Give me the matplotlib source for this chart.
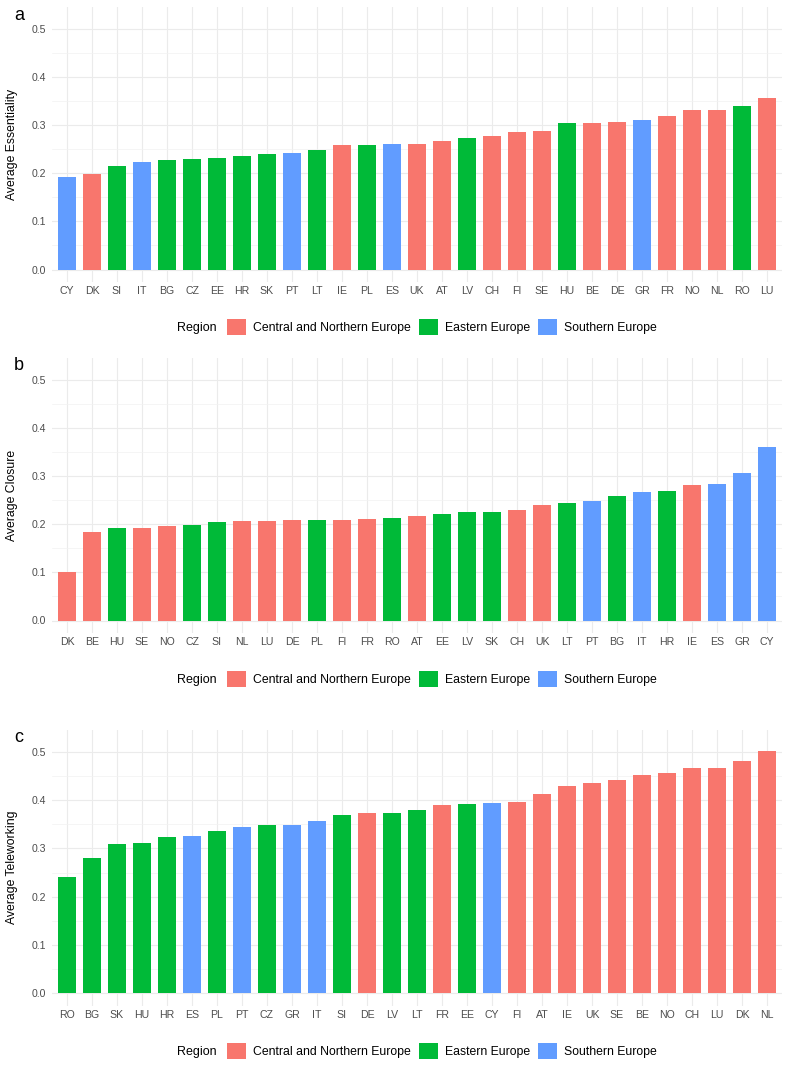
import matplotlib
matplotlib.use('Agg')
import matplotlib.pyplot as plt
from matplotlib.patches import Patch
from matplotlib.ticker import MultipleLocator

plt.rcParams['font.family'] = ['Liberation Sans', 'DejaVu Sans']

# region of each country
central = ['DK', 'IE', 'UK', 'AT', 'CH', 'FI', 'SE', 'BE', 'DE', 'FR', 'NO', 'NL', 'LU']
eastern = ['SI', 'BG', 'CZ', 'EE', 'HR', 'SK', 'LT', 'PL', 'LV', 'HU', 'RO']
southern = ['CY', 'IT', 'PT', 'ES', 'GR']

regions = ['Central and Northern Europe', 'Eastern Europe', 'Southern Europe']
colores = ['#F8766D', '#00BA38', '#619CFF']

# panel a - essentiality
paises_a = ['CY', 'DK', 'SI', 'IT', 'BG', 'CZ', 'EE', 'HR', 'SK', 'PT', 'LT', 'IE', 'PL', 'ES', 'UK',
            'AT', 'LV', 'CH', 'FI', 'SE', 'HU', 'BE', 'DE', 'GR', 'FR', 'NO', 'NL', 'RO', 'LU']
valores_a = [0.192, 0.199, 0.215, 0.224, 0.228, 0.230, 0.232, 0.236, 0.241, 0.243, 0.249, 0.259, 0.260,
             0.261, 0.262, 0.267, 0.274, 0.278, 0.286, 0.288, 0.304, 0.305, 0.307, 0.311, 0.320, 0.331,
             0.331, 0.341, 0.356]

# panel b - closure
paises_b = ['DK', 'BE', 'HU', 'SE', 'NO', 'CZ', 'SI', 'NL', 'LU', 'DE', 'PL', 'FI', 'FR', 'RO', 'AT',
            'EE', 'LV', 'SK', 'CH', 'UK', 'LT', 'PT', 'BG', 'IT', 'HR', 'IE', 'ES', 'GR', 'CY']
valores_b = [0.101, 0.185, 0.193, 0.193, 0.196, 0.198, 0.205, 0.207, 0.208, 0.209, 0.209, 0.210, 0.211,
             0.214, 0.217, 0.222, 0.225, 0.226, 0.229, 0.240, 0.245, 0.249, 0.258, 0.267, 0.270, 0.282,
             0.284, 0.307, 0.361]

# panel c - teleworking
paises_c = ['RO', 'BG', 'SK', 'HU', 'HR', 'ES', 'PL', 'PT', 'CZ', 'GR', 'IT', 'SI', 'DE', 'LV', 'LT',
            'FR', 'EE', 'CY', 'FI', 'AT', 'IE', 'UK', 'SE', 'BE', 'NO', 'CH', 'LU', 'DK', 'NL']
valores_c = [0.240, 0.281, 0.310, 0.312, 0.323, 0.326, 0.337, 0.345, 0.348, 0.349, 0.357, 0.369, 0.374,
             0.374, 0.379, 0.391, 0.393, 0.394, 0.397, 0.413, 0.429, 0.436, 0.443, 0.452, 0.456, 0.467,
             0.468, 0.481, 0.502]


def color_pais(p):
    if p in central:
        return colores[0]
    if p in eastern:
        return colores[1]
    return colores[2]


W, H = 787, 1074
fig = plt.figure(figsize=(W / 100, H / 100), dpi=100)

paneles = [
    ('a', paises_a, valores_a, 'Average Essentiality', 7, 282, 327),
    ('b', paises_b, valores_b, 'Average Closure', 358, 633, 679),
    ('c', paises_c, valores_c, 'Average Teleworking', 730, 1005.5, 1051),
]

fs_leg = 8.8
fs_px = fs_leg * 100 / 72

for letra, paises, valores, ylab, top, bottom, y_leg in paneles:
    left, right = 52, 782
    ax = fig.add_axes([left / W, 1 - bottom / H, (right - left) / W, (bottom - top) / H])
    x = range(len(paises))
    ax.bar(x, valores, width=0.74, color=[color_pais(p) for p in paises], zorder=3)
    ax.set_xlim(-0.6, len(paises) - 0.4)
    ax.set_ylim(-0.026, 0.546)
    ax.set_xticks(list(x))
    ax.set_xticklabels(paises)
    ax.yaxis.set_major_locator(MultipleLocator(0.1))
    ax.yaxis.set_minor_locator(MultipleLocator(0.05))
    ax.set_yticks([0, 0.1, 0.2, 0.3, 0.4, 0.5])
    ax.set_yticklabels(['0.0', '0.1', '0.2', '0.3', '0.4', '0.5'])
    ax.grid(which='major', color='#EBEBEB', linewidth=0.8, zorder=0)
    ax.grid(which='minor', axis='y', color='#F2F2F2', linewidth=0.5, zorder=0)
    ax.tick_params(which='both', length=0, labelsize=7.6, labelcolor='#4D4D4D')
    ax.tick_params(axis='y', pad=4.3)
    ax.tick_params(axis='x', pad=3)
    for s in ax.spines.values():
        s.set_visible(False)

    fig.text(12.5 / W, 1 - ((top + bottom) / 2) / H, ylab, rotation=90,
             ha='center', va='center', fontsize=8.8)
    fig.text(19 / W, 1 - (top + 8) / H, letra, ha='center', va='center', fontsize=13)

    # leyenda
    fig.text(177 / W, 1 - (y_leg + 1.5) / H, 'Region', ha='left', va='center', fontsize=9)
    handles = [Patch(facecolor=c, edgecolor='none') for c in colores]
    fig.legend(handles, regions, loc='center left', bbox_to_anchor=(227 / W, 1 - y_leg / H),
               ncol=3, frameon=False, fontsize=fs_leg, borderpad=0, borderaxespad=0,
               handlelength=19 / fs_px, handleheight=19 / fs_px,
               handletextpad=7 / fs_px, columnspacing=8 / fs_px)

plt.savefig('out.png', dpi=100)
